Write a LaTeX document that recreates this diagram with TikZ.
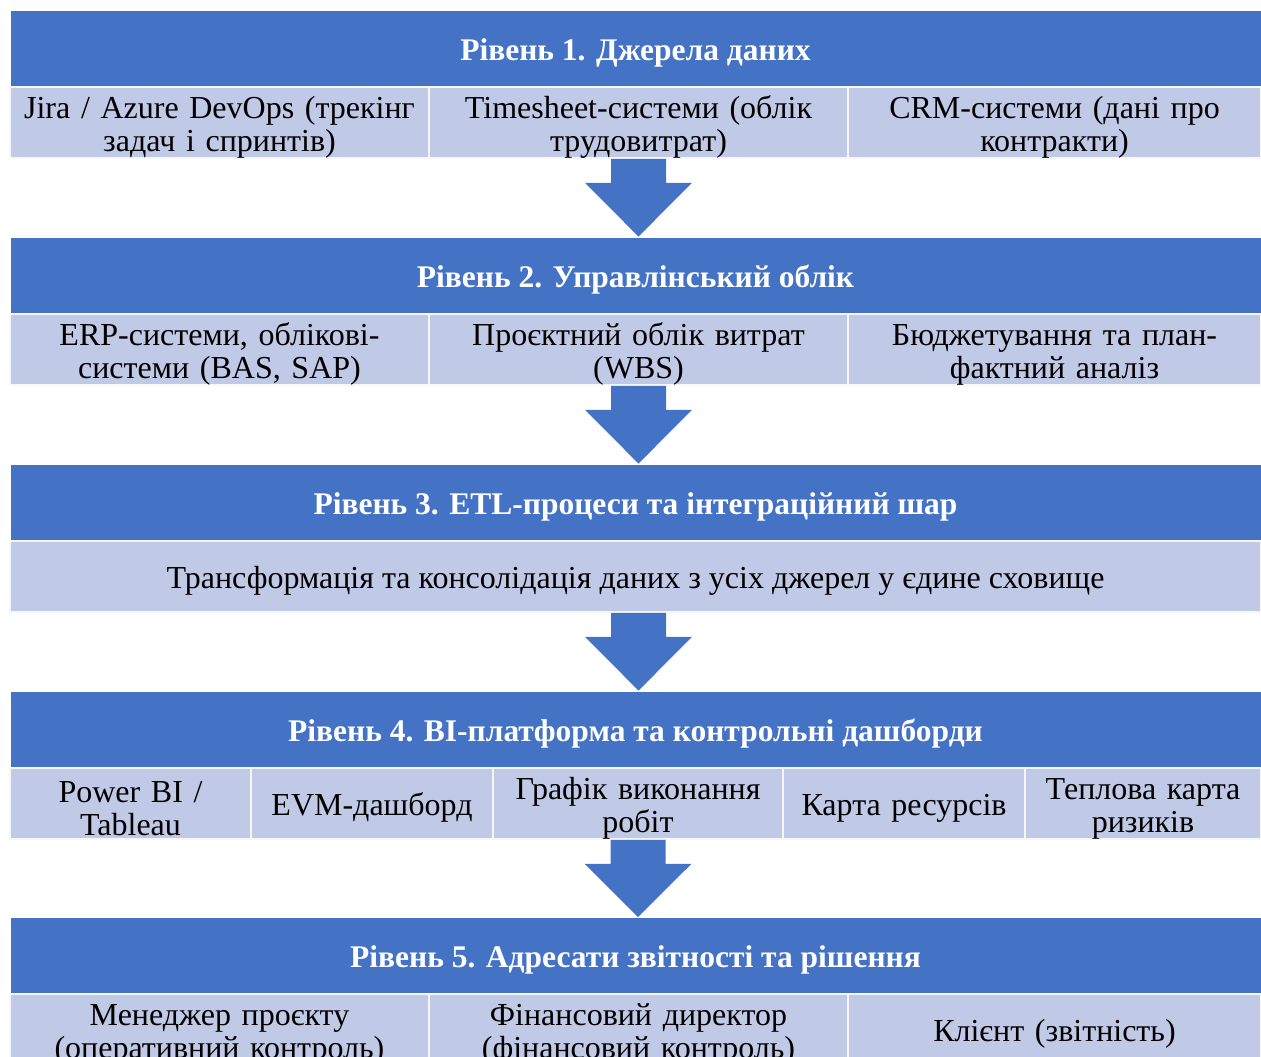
\documentclass[tikz,border=0pt]{standalone}
\usepackage{fontspec}
\setmainfont{Liberation Serif}
\usetikzlibrary{positioning}

\definecolor{headblue}{RGB}{68,114,196}
\definecolor{celllight}{RGB}{192,201,230}

\tikzset{
  head/.style={rectangle, fill=headblue, draw=white, line width=0.8pt,
    minimum width=1251pt, minimum height=77pt, inner sep=0pt,
    text=white, font=\fontsize{31.5}{34}\selectfont\bfseries,
    execute at begin node={\rule{0pt}{30pt}}},
  cell/.style={rectangle, fill=celllight, draw=white!85!celllight, line width=1.5pt,
    minimum height=71pt, inner sep=0pt, align=center,
    font=\fontsize{32}{33}\selectfont,
    execute at begin node={\rule{0pt}{31pt}}},
}

% block arrow from a band's bottom down to the next header
\newcommand{\bandarrow}[2]{%
  \fill[headblue] ([xshift=-27.5pt]#1) -- ([xshift=-27.5pt,yshift=-24pt]#1)
    -- ([xshift=-53.5pt,yshift=-24pt]#1) -- (#1 |- #2)
    -- ([xshift=53.5pt,yshift=-24pt]#1) -- ([xshift=27.5pt,yshift=-24pt]#1)
    -- ([xshift=27.5pt]#1) -- cycle;}

\begin{document}
\begin{tikzpicture}[x=1pt,y=-1pt]
\useasboundingbox (0,0) rectangle (1261,1057);

\def\xm{635.5}
\def\ca{219.5}
\def\cb{638.5}
\def\cc{1054.5}

% level 1
\node[head] (h1) at (\xm,48.5) {Рівень 1. Джерела даних};
\node[cell, minimum width=419pt, text width=410pt] (c1a) at (\ca,122.5) {Jira / Azure DevOps (трекінг\\ задач і спринтів)};
\node[cell, minimum width=419pt, text width=410pt] (c1b) at (\cb,122.5) {Timesheet-системи (облік\\ трудовитрат)};
\node[cell, minimum width=413pt, text width=405pt] (c1c) at (\cc,122.5) {CRM-системи (дані про\\ контракти)};

% level 2
\node[head] (h2) at (\xm,275.5) {Рівень 2. Управлінський облік};
\node[cell, minimum width=419pt, text width=410pt] (c2a) at (\ca,349.5) {ERP-системи, облікові-\\ системи (BAS, SAP)};
\node[cell, minimum width=419pt, text width=410pt] (c2b) at (\cb,349.5) {Проєктний облік витрат\\ (WBS)};
\node[cell, minimum width=413pt, text width=405pt] (c2c) at (\cc,349.5) {Бюджетування та план-\\ фактний аналіз};

% level 3
\node[head] (h3) at (\xm,502.5) {Рівень 3. ETL-процеси та інтеграційний шар};
\node[cell, minimum width=1251pt] (c3a) at (\xm,576.5) {Трансформація та консолідація даних з усіх джерел у єдине сховище};
\coordinate (m3) at (c3a.south -| c1b.south);

% level 4
\node[head] (h4) at (\xm,729.5) {Рівень 4. BI-платформа та контрольні дашборди};
\node[cell, minimum width=241pt, text width=236pt] (c4a) at (130.5,803.5) {Power BI /\\ Tableau};
\node[cell, minimum width=242pt, text width=236pt] (c4b) at (372,803.5) {EVM-дашборд};
\node[cell, minimum width=290pt, text width=284pt] (c4c) at (638,803.5) {Графік виконання\\ робіт};
\node[cell, minimum width=242pt, text width=236pt] (c4d) at (904,803.5) {Карта ресурсів};
\node[cell, minimum width=236pt, text width=232pt] (c4e) at (1143,803.5) {Теплова карта\\ ризиків};

% level 5
\node[head] (h5) at (\xm,956) {Рівень 5. Адресати звітності та рішення};
\node[cell, minimum width=419pt, text width=410pt] (c5a) at (\ca,1029.5) {Менеджер проєкту\\ (оперативний контроль)};
\node[cell, minimum width=419pt, text width=410pt] (c5b) at (\cb,1029.5) {Фінансовий директор\\ (фінансовий контроль)};
\node[cell, minimum width=413pt, text width=405pt] (c5c) at (\cc,1029.5) {Клієнт (звітність)};

% arrows between levels
\bandarrow{c1b.south}{h2.north}
\bandarrow{c2b.south}{h3.north}
\bandarrow{m3}{h4.north}
\bandarrow{c4c.south}{h5.north}
\end{tikzpicture}
\end{document}
